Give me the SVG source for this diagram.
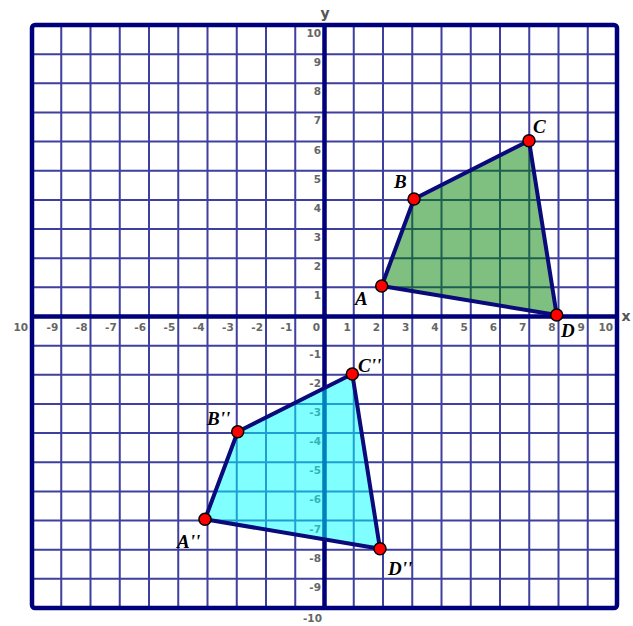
<svg xmlns="http://www.w3.org/2000/svg" width="633" height="626" viewBox="0 0 633 626">
<style>
.grid{stroke:#3f3f9f;stroke-width:2;fill:none}
.axis{stroke:#00007a;stroke-width:4.5;fill:none}
.tick{font-family:"DejaVu Sans",sans-serif;font-size:10.5px;font-weight:bold;fill:#666;text-anchor:end}
.ax{font-family:"DejaVu Sans",sans-serif;font-size:14px;font-weight:bold;fill:#555;text-anchor:middle}
.poly{stroke:#0a0a7a;stroke-width:4;stroke-linejoin:round}
.pt{fill:#ff0000;stroke:#000;stroke-width:1.5}
.lbl{font-family:"Liberation Serif",serif;font-size:19px;font-style:italic;font-weight:bold;fill:#000}
</style>
<rect width="633" height="626" fill="#fff"/>
<g id="grid">
<path class="grid" d="M61.25 25V608M90.5 25V608M119.75 25V608M149 25V608M178.25 25V608M207.5 25V608M236.75 25V608M266 25V608M295.25 25V608M353.75 25V608M383 25V608M412.25 25V608M441.5 25V608M470.75 25V608M500 25V608M529.25 25V608M558.5 25V608M587.75 25V608"/>
<path class="grid" d="M32 54.15H617M32 83.3H617M32 112.45H617M32 141.6H617M32 170.75H617M32 199.9H617M32 229.05H617M32 258.2H617M32 287.35H617M32 345.65H617M32 374.8H617M32 403.95H617M32 433.1H617M32 462.25H617M32 491.4H617M32 520.55H617M32 549.7H617M32 578.85H617"/>
<rect class="axis" x="32" y="25" width="585" height="583" rx="3"/>
<path class="axis" d="M324.5 25V608M32 316.5H617"/>
</g>
<g id="ticks">
<text class="tick" x="28" y="331">10</text>
<text class="tick" x="58.25" y="331">-9</text>
<text class="tick" x="87.5" y="331">-8</text>
<text class="tick" x="116.75" y="331">-7</text>
<text class="tick" x="146" y="331">-6</text>
<text class="tick" x="175.25" y="331">-5</text>
<text class="tick" x="204.5" y="331">-4</text>
<text class="tick" x="233.75" y="331">-3</text>
<text class="tick" x="263" y="331">-2</text>
<text class="tick" x="292.25" y="331">-1</text>
<text class="tick" x="320" y="331">0</text>
<text class="tick" x="350.75" y="331">1</text>
<text class="tick" x="380" y="331">2</text>
<text class="tick" x="409.25" y="331">3</text>
<text class="tick" x="438.5" y="331">4</text>
<text class="tick" x="467.75" y="331">5</text>
<text class="tick" x="497" y="331">6</text>
<text class="tick" x="526.25" y="331">7</text>
<text class="tick" x="555.5" y="331">8</text>
<text class="tick" x="584.75" y="331">9</text>
<text class="tick" x="613" y="331">10</text>
<text class="tick" x="321" y="37">10</text>
<text class="tick" x="321" y="66.15">9</text>
<text class="tick" x="321" y="95.3">8</text>
<text class="tick" x="321" y="124.45">7</text>
<text class="tick" x="321" y="153.6">6</text>
<text class="tick" x="321" y="182.75">5</text>
<text class="tick" x="321" y="211.9">4</text>
<text class="tick" x="321" y="241.05">3</text>
<text class="tick" x="321" y="270.2">2</text>
<text class="tick" x="321" y="299.35">1</text>
<text class="tick" x="321" y="357.65">-1</text>
<text class="tick" x="321" y="386.8">-2</text>
<text class="tick" x="321" y="415.95">-3</text>
<text class="tick" x="321" y="445.1">-4</text>
<text class="tick" x="321" y="474.25">-5</text>
<text class="tick" x="321" y="503.4">-6</text>
<text class="tick" x="321" y="532.55">-7</text>
<text class="tick" x="321" y="561.7">-8</text>
<text class="tick" x="321" y="590.85">-9</text>
<text class="tick" x="322" y="622">-10</text>
<text class="ax" x="626" y="321">x</text>
<text class="ax" x="325" y="18">y</text>
</g>
<g id="shape-ABCD">
<polygon class="poly" points="381.7,286 414,199 529,140.7 556.7,315" fill="rgba(0,128,0,0.5)"/>
<circle class="pt" cx="381.7" cy="286" r="6"/>
<circle class="pt" cx="414" cy="199" r="6"/>
<circle class="pt" cx="529" cy="140.7" r="6"/>
<circle class="pt" cx="556.7" cy="315" r="6"/>
<text class="lbl" x="355" y="305">A</text>
<text class="lbl" x="394" y="188">B</text>
<text class="lbl" x="533" y="133">C</text>
<text class="lbl" x="561" y="337">D</text>
</g>
<g id="shape-A2B2C2D2">
<polygon class="poly" points="205,519.3 237.7,431.7 352.3,374 380,548.7" fill="rgba(0,255,255,0.5)"/>
<circle class="pt" cx="205" cy="519.3" r="6"/>
<circle class="pt" cx="237.7" cy="431.7" r="6"/>
<circle class="pt" cx="352.3" cy="374" r="6"/>
<circle class="pt" cx="380" cy="548.7" r="6"/>
<text class="lbl" x="177" y="548">A''</text>
<text class="lbl" x="207" y="425">B''</text>
<text class="lbl" x="358" y="372">C''</text>
<text class="lbl" x="388" y="575">D''</text>
</g>
</svg>
